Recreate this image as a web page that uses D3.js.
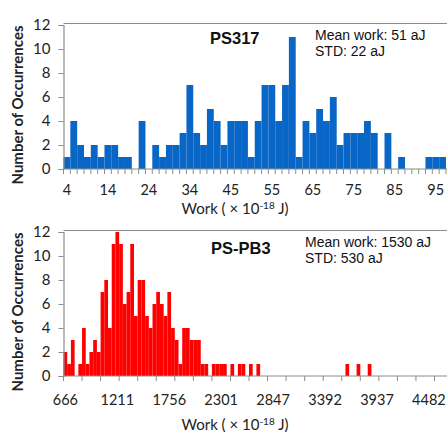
<!DOCTYPE html>
<html>
<head>
<meta charset="utf-8">
<script src="https://cdn.jsdelivr.net/npm/d3@7"></script>
<style>
  html, body { margin: 0; padding: 0; background: #fff; }
  svg { display: block; }
</style>
</head>
<body>
<svg id="chart" width="447" height="432"></svg>
<script>
// PS317 work histogram: counts per bin (bin width ≈ 1.69 aJ, first bin at 4 aJ)
const ps317Counts = [1,4,2,1,2,1,2,2,1,1,0,4,0,2,1,2,2,3,7,3,2,5,4,2,4,4,4,1,4,7,7,4,7,11,1,4,3,5,4,6,2,3,3,3,4,3,0,3,0,1,0,0,0,1,1,1];
const ps317TickLabels = ["4","14","24","34","45","55","65","75","85","95"];

// PS-PB3 work histogram: counts per bin (bin width ≈ 38.9 aJ, first bin at 666 aJ)
const pspb3Counts = [2,1,3,0,1,4,1,2,3,2,7,8,4,11,12,11,6,7,11,5,8,8,5,4,6,7,6,5,7,4,3,1,4,4,3,3,3,1,1,0,1,1,1,1,0,1,0,1,1,0,1,0,1,0,0,0,0,0,0,0,0,0,0,0,0,0,0,0,0,0,0,0,0,0,0,0,1,0,0,1,0,0,1,0,0,0,0,0,0,0,0,0,0,0,0,0,0,0,0,0,0,0,0,0];
const pspb3TickLabels = ["666","1211","1756","2301","2847","3392","3937","4482"];

const yTicks = [0,2,4,6,8,10,12];

const svg = d3.select("#chart");
const tickFont = "Lato, 'Open Sans', sans-serif";
const noteFont = "'Liberation Sans', Arial, sans-serif";

function panel(opts) {
  const g = svg.append("g");
  const n = opts.counts.length;
  const x = d3.scaleBand()
    .domain(d3.range(n))
    .range([opts.left, opts.left + n * opts.binW])
    .paddingInner(0).paddingOuter(0);
  const y = d3.scaleLinear().domain([0, 12]).range([opts.bottom, opts.top]);

  // top border of the plot area
  g.append("line")
    .attr("x1", opts.left).attr("x2", 447)
    .attr("y1", y(12) - 1.5).attr("y2", y(12) - 1.5)
    .attr("stroke", "#8c8c8c").attr("stroke-width", 1.2);

  // bars
  g.append("g").selectAll("rect")
    .data(opts.counts.map((c, i) => ({ c, i })).filter(d => d.c > 0))
    .join("rect")
    .attr("x", d => x(d.i))
    .attr("width", x.bandwidth())
    .attr("y", d => y(d.c))
    .attr("height", d => y(0) - y(d.c))
    .attr("fill", opts.color);

  // y axis
  const yAxis = d3.axisLeft(y).tickValues(yTicks).tickSize(5).tickPadding(8);
  const ya = g.append("g").attr("transform", `translate(${opts.left},0)`).call(yAxis);
  ya.select(".domain").attr("stroke", "#8c8c8c").attr("stroke-width", 1.2);
  ya.selectAll(".tick line").attr("stroke", "#8c8c8c");
  ya.selectAll("text").attr("font-family", tickFont).attr("font-size", 15).attr("fill", "#222");

  // x axis: tick marks at bin edges, labels every few bins
  const xa = g.append("g").attr("transform", `translate(0,${opts.bottom})`);
  xa.append("line")
    .attr("x1", opts.left).attr("x2", 447)
    .attr("stroke", "#8c8c8c").attr("stroke-width", 1.2);
  const edges = d3.range(0, Math.ceil((447 - opts.left) / (opts.binW * opts.tickEvery)) + 1)
    .map(k => opts.left + k * opts.tickEvery * opts.binW)
    .filter(v => v <= 447);
  xa.selectAll("line.tk").data(edges).join("line").attr("class", "tk")
    .attr("x1", d => d).attr("x2", d => d)
    .attr("y1", 0).attr("y2", 5)
    .attr("stroke", "#8c8c8c");
  xa.selectAll("text").data(opts.tickLabels).join("text")
    .attr("x", (d, k) => x(k * opts.labelEvery) + x.bandwidth() / 2)
    .attr("y", opts.labelY - opts.bottom)
    .attr("text-anchor", "middle")
    .attr("font-family", tickFont).attr("font-size", 14.5).attr("fill", "#222")
    .text(d => d);

  // axis titles
  const xt = g.append("text")
    .attr("x", 235).attr("y", opts.titleY)
    .attr("text-anchor", "middle")
    .attr("font-family", tickFont).attr("font-size", 15).attr("fill", "#222");
  xt.append("tspan").text("Work ( \u00d7 10");
  xt.append("tspan").attr("dy", -5).attr("font-size", 10).text("-18");
  xt.append("tspan").attr("dy", 5).text(" J)");

  g.append("text")
    .attr("transform", `translate(23,${(opts.top + opts.bottom) / 2 + 8}) rotate(-90)`)
    .attr("text-anchor", "middle")
    .attr("font-family", tickFont).attr("font-size", 15).attr("font-weight", "bold").attr("fill", "#222")
    .text("Number of Occurrences");

  // sample name and statistics
  g.append("text")
    .attr("x", opts.nameX).attr("y", opts.nameY)
    .attr("font-family", noteFont).attr("font-size", 16.5).attr("font-weight", "bold").attr("fill", "#111")
    .text(opts.name);
  g.append("text")
    .attr("x", opts.noteX).attr("y", opts.noteY)
    .attr("font-family", noteFont).attr("font-size", 14).attr("fill", "#111")
    .text(opts.mean);
  g.append("text")
    .attr("x", opts.noteX).attr("y", opts.noteY + 16)
    .attr("font-family", noteFont).attr("font-size", 14).attr("fill", "#111")
    .text(opts.std);
}

panel({
  counts: ps317Counts, tickLabels: ps317TickLabels,
  left: 63.5, binW: 6.83, labelEvery: 6, tickEvery: 1,
  top: 25, bottom: 169, color: "#0866c6",
  labelY: 195, titleY: 214,
  name: "PS317", nameX: 210, nameY: 44,
  mean: "Mean work: 51 aJ", std: "STD: 22 aJ", noteX: 315, noteY: 40
});

panel({
  counts: pspb3Counts, tickLabels: pspb3TickLabels,
  left: 63.5, binW: 3.71, labelEvery: 14, tickEvery: 5,
  top: 232, bottom: 376, color: "#ff0000",
  labelY: 405, titleY: 430,
  name: "PS-PB3", nameX: 211, nameY: 254,
  mean: "Mean work: 1530 aJ", std: "STD: 530 aJ", noteX: 305, noteY: 247
});
</script>
</body>
</html>
